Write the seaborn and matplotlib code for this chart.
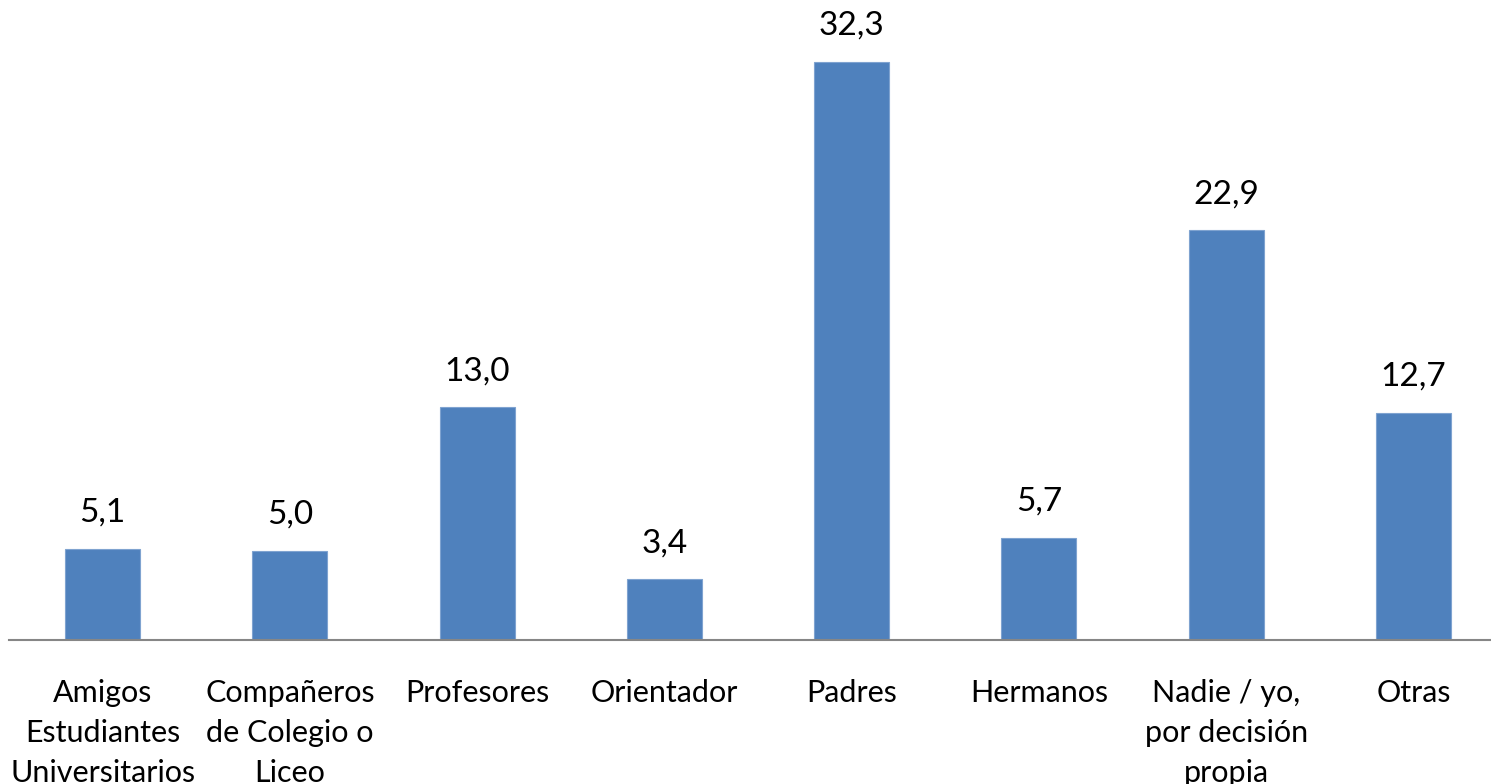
import matplotlib
matplotlib.use("Agg")
import matplotlib.pyplot as plt
import seaborn as sns
import pandas as pd

categorias = ["Amigos\nEstudiantes\nUniversitarios", "Compañeros\nde Colegio o\nLiceo",
              "Profesores", "Orientador", "Padres", "Hermanos",
              "Nadie / yo,\npor decisión\npropia", "Otras"]
valores = [5.1, 5.0, 13.0, 3.4, 32.3, 5.7, 22.9, 12.7]

sns.set_theme(style="white")
plt.rcParams["font.family"] = ["Lato", "DejaVu Sans"]

df = pd.DataFrame({"cat": categorias, "val": valores})

fig = plt.figure(figsize=(14.91, 7.84), dpi=100)
# ejes algo mas anchos que la figura, como en el original (recortado a la derecha)
ax = fig.add_axes([9 / 1491, 144 / 784, 1498 / 1491, 640 / 784])

sns.barplot(data=df, x="cat", y="val", color="#4F81BD", width=0.4, saturation=1,
            edgecolor="#7FA3D0", linewidth=0.8, ax=ax)

ax.set_ylim(0, 35.77)
ax.set_xlim(-0.5, 7.5)
ax.set_xlabel("")
ax.set_ylabel("")
ax.set_yticks([])
for s in ["top", "right", "left"]:
    ax.spines[s].set_visible(False)
ax.spines["bottom"].set_color("#868686")
ax.spines["bottom"].set_linewidth(1.5)

ax.tick_params(axis="x", length=0, pad=28, labelsize=22)
for lbl in ax.get_xticklabels():
    lbl.set_linespacing(1.52)
    lbl.set_color("black")

# etiquetas de valor con coma decimal
for i, v in enumerate(valores):
    ax.annotate(f"{v:.1f}".replace(".", ","), (i, v), xytext=(0, 19.5),
                textcoords="offset points", ha="center", va="baseline",
                fontsize=24, color="black")

fig.savefig("out.png", dpi=100)
